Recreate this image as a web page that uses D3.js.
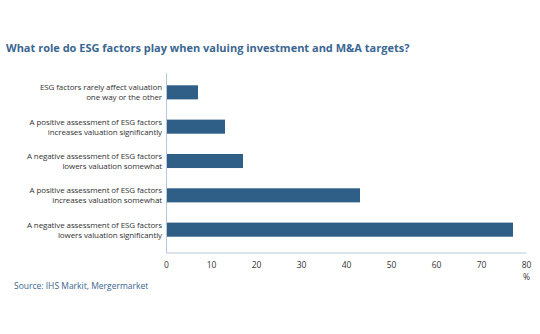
<!DOCTYPE html>
<html>
<head>
<meta charset="utf-8">
<script src="https://cdn.jsdelivr.net/npm/d3@7"></script>
<style>
  body { margin: 0; background: #fff; }
  svg { display: block; font-family: "Open Sans", sans-serif; }
</style>
</head>
<body>
<div id="chart"></div>
<script>
// Data ------------------------------------------------------------------------------------------------
const categories = [
  ["ESG factors rarely affect valuation", "one way or the other"],
  ["A positive assessment of ESG factors", "increases valuation significantly"],
  ["A negative assessment of ESG factors", "lowers valuation somewhat"],
  ["A positive assessment of ESG factors", "increases valuation somewhat"],
  ["A negative assessment of ESG factors", "lowers valuation significantly"]
];
const values = [7, 13, 17, 43, 77];
const ticks = [0, 10, 20, 30, 40, 50, 60, 70, 80];

const title = "What role do ESG factors play when valuing investment and M&A targets?";
const source = "Source: IHS Markit, Mergermarket";

// Dimensions ------------------------------------------------------------------------------------------
const width = 540, height = 334;
const plot = {left: 166.5, right: 526.5, top: 75, bottom: 247, axisY: 253};

const svg = d3.select("#chart").append("svg")
  .attr("width", width)
  .attr("height", height);

// Scales
const x = d3.scaleLinear().domain([0, 80]).range([plot.left, plot.right]);
const y = d3.scaleBand().domain(d3.range(values.length)).range([plot.top, plot.bottom]).paddingInner(0.59).paddingOuter(0.3);

// Title
svg.append("text")
  .attr("x", 6)
  .attr("y", 52)
  .attr("fill", "#3a6692")
  .attr("font-weight", "bold")
  .attr("font-size", 11)
  .text(title);

// Bars
svg.selectAll(".bar")
  .data(values)
  .join("rect")
  .attr("class", "bar")
  .attr("x", x(0))
  .attr("y", (d, i) => y(i))
  .attr("width", d => x(d) - x(0))
  .attr("height", y.bandwidth())
  .attr("fill", "#2f5f86");

// Axes lines
svg.append("line")
  .attr("x1", x(0)).attr("x2", x(0))
  .attr("y1", 73).attr("y2", plot.axisY)
  .attr("stroke", "#b6c7da").attr("stroke-width", 1);
svg.append("line")
  .attr("x1", x(0)).attr("x2", x(80))
  .attr("y1", plot.axisY).attr("y2", plot.axisY)
  .attr("stroke", "#b6c7da").attr("stroke-width", 1);

// Tick labels
svg.selectAll(".tick")
  .data(ticks)
  .join("text")
  .attr("class", "tick")
  .attr("x", d => x(d))
  .attr("y", 268)
  .attr("text-anchor", "middle")
  .attr("font-size", 8.5)
  .attr("fill", "#333")
  .text(d => d);

svg.append("text")
  .attr("x", x(80))
  .attr("y", 280)
  .attr("text-anchor", "middle")
  .attr("font-size", 8.5)
  .attr("fill", "#333")
  .text("%");

// Category labels
const labels = svg.selectAll(".cat")
  .data(categories)
  .join("text")
  .attr("class", "cat")
  .attr("text-anchor", "end")
  .attr("font-size", 8)
  .attr("fill", "#333")
  .attr("letter-spacing", -0.1);
labels.selectAll("tspan")
  .data((d, i) => d.map(t => ({t, i})))
  .join("tspan")
  .attr("x", 162)
  .attr("y", (d, j) => y(d.i) + y.bandwidth() / 2 + (j === 0 ? -2 : 8))
  .text(d => d.t);

// Source
svg.append("text")
  .attr("x", 14)
  .attr("y", 289)
  .attr("fill", "#3a6692")
  .attr("font-size", 8.5)
  .text(source);
</script>
</body>
</html>
